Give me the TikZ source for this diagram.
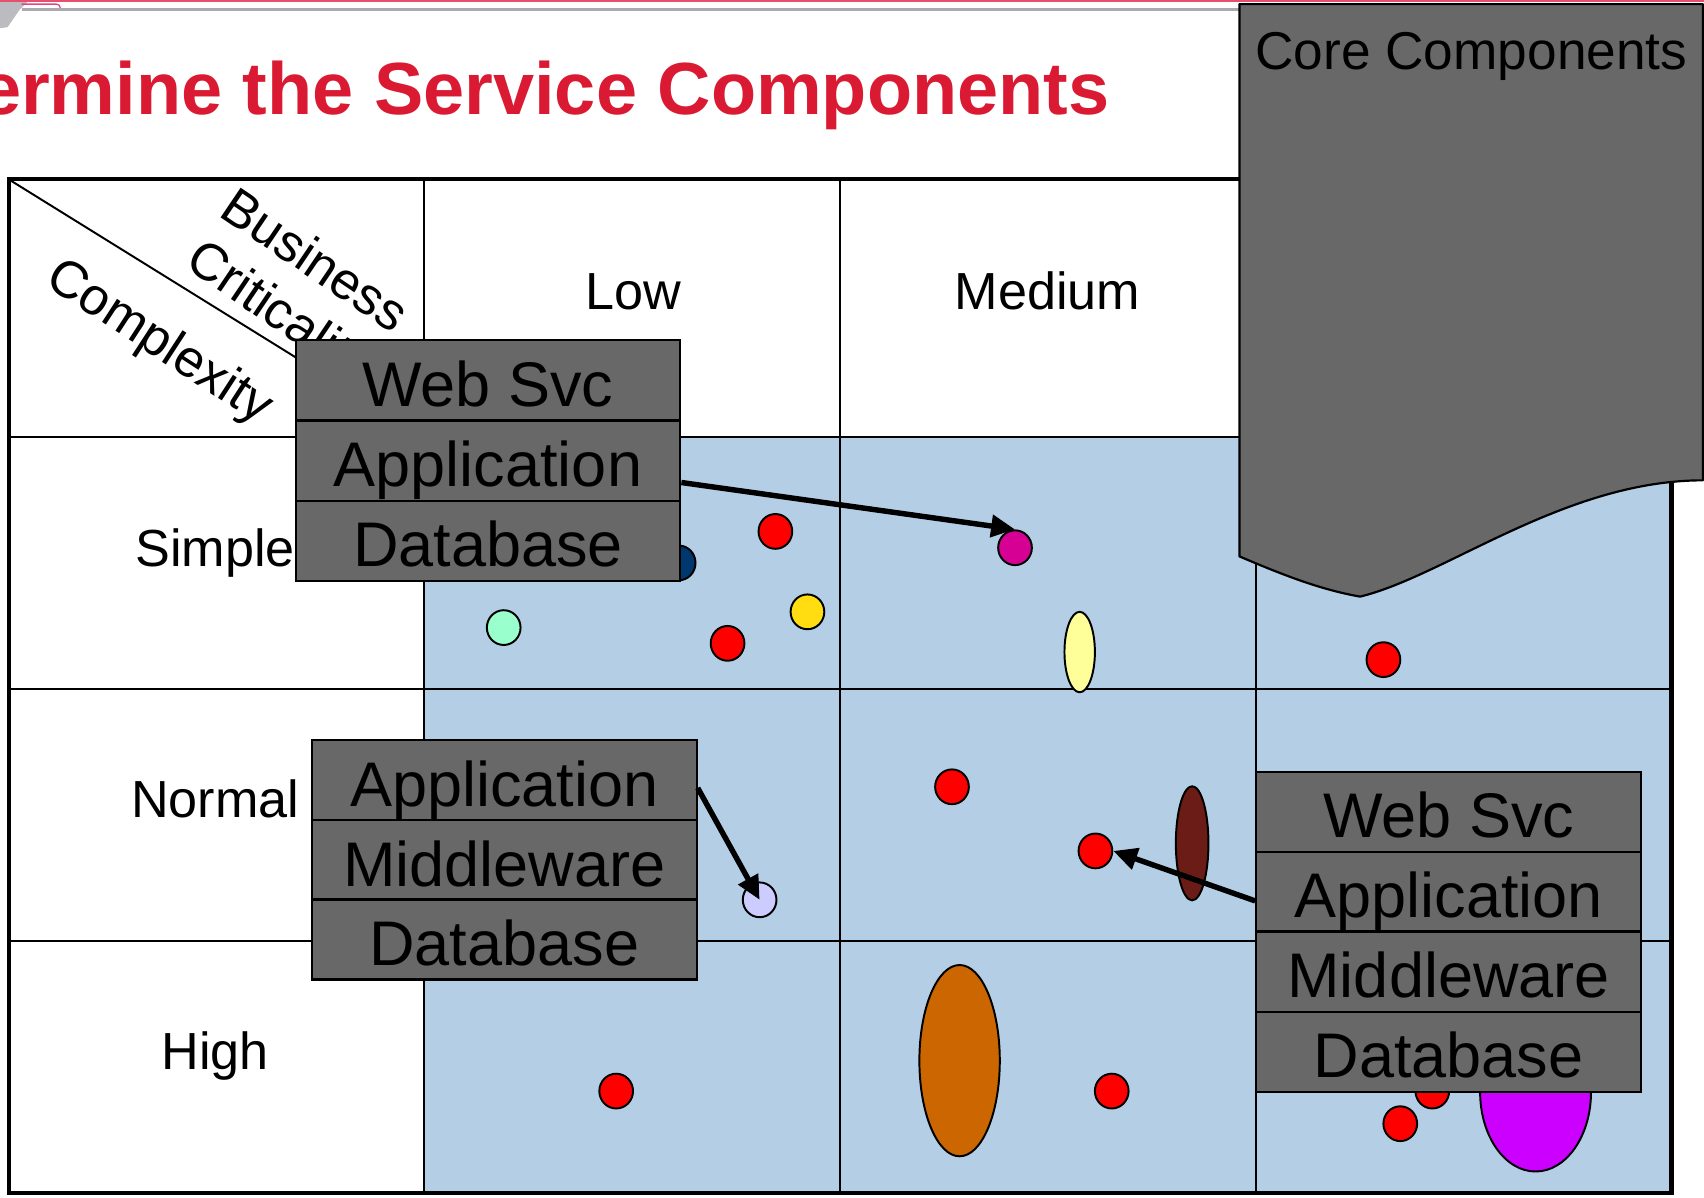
\documentclass[tikz,border=0pt]{standalone}
\usepackage{fontspec}
\setmainfont{Liberation Sans}
\usetikzlibrary{arrows.meta,shapes.geometric}
\definecolor{cellblue}{RGB}{180,206,230}
\definecolor{boxgray}{RGB}{104,104,104}
\definecolor{titlered}{RGB}{218,26,50}
\definecolor{topred}{RGB}{228,80,110}
\definecolor{topgray}{RGB}{170,170,176}
\definecolor{dotred}{RGB}{255,0,0}
\definecolor{dotnavy}{RGB}{0,56,110}
\definecolor{dotgreen}{RGB}{153,255,204}
\definecolor{dotyellow}{RGB}{255,221,17}
\definecolor{dotmagenta}{RGB}{214,0,148}
\definecolor{dotlav}{RGB}{204,204,255}
\definecolor{dotpale}{RGB}{255,255,153}
\definecolor{dotbrown}{RGB}{108,28,22}
\definecolor{dotorange}{RGB}{204,102,0}
\definecolor{dotpurple}{RGB}{204,0,255}
\begin{document}
\begin{tikzpicture}[x=1pt,y=-1pt,
  lbl/.style={font=\fontsize{48}{57}\selectfont, inner sep=0pt, anchor=base},
  boxrow/.style={draw=black, line width=2pt, fill=boxgray, minimum width=354pt,
     minimum height=73.7pt, inner sep=0pt, text height=48pt, text depth=0pt,
     font=\fontsize{58}{60}\selectfont},
  dot/.style={ellipse, draw=black, line width=1.8pt, inner sep=0pt,
     minimum width=31pt, minimum height=32pt},
  arr/.style={line width=5pt, -{Triangle[length=22pt,width=20pt]}},
  grid/.style={line width=2pt}
]
\useasboundingbox (0,0) rectangle (1568,1101.5);

% top decorations
\fill[topgray!80] (0,0) -- (27,0) -- (18,9) -- (7,25) -- (0,26) -- cycle;
\draw[topred, line width=1.6pt] (0,0.8) -- (1568,0.8);
\draw[topgray, line width=3pt] (20,9) -- (1568,9);
\draw[topred!80!magenta, line width=1.2pt] (20,3.8) -- (52,3.8) arc[start angle=90, end angle=0, radius=3.5pt];

% title
\node[font=\fontsize{68}{72}\selectfont\bfseries, text=titlered, inner sep=0pt,
      anchor=base east] (title) at (1021,105) {ermine the Service Components};

% table
\fill[cellblue] (390,402) rectangle (1538,1098);
\draw[grid] (390,165) -- (390,1098);
\draw[grid] (773,165) -- (773,1098);
\draw[grid] (1156,165) -- (1156,1098);
\draw[grid] (8,402) -- (1538,402);
\draw[grid] (8,634) -- (1538,634);
\draw[grid] (8,866) -- (1538,866);
\draw[line width=1.8pt] (8,165) -- (390,402);
\draw[line width=4pt] (8,165) rectangle (1538,1098);

% headers
\node[lbl] (low) at (582.5,285) {Low};
\node[lbl] (med) at (964,285) {Medium};
\node[lbl] (simple) at (198,521) {Simple};
\node[lbl] (normal) at (198,752) {Normal};
\node[lbl] (high) at (198,984) {High};
\node[font=\fontsize{48}{57}\selectfont, inner sep=0pt, align=center, rotate=-34]
   (bc) at (272,266) {Business\\Criticality};
\node[font=\fontsize{48}{57}\selectfont, inner sep=0pt, rotate=-33]
   (cx) at (146,316) {Complexity};

% dots
\node[dot, fill=dotred] (r1) at (713.5,489) {};
\node[dot, fill=dotred] (r2) at (669.5,592) {};
\node[dot, fill=dotred] (r3) at (1273,607) {};
\node[dot, fill=dotred] (r4) at (876,724) {};
\node[dot, fill=dotred] (r5) at (1008,783) {};
\node[dot, fill=dotred] (r6) at (567,1004) {};
\node[dot, fill=dotred] (r7) at (1023,1004) {};
\node[dot, fill=dotred] (r9) at (1318,1004) {};
\node[dot, fill=dotred] (r8) at (1288.5,1034) {};
\node[dot, fill=dotnavy] (navy) at (624.5,518) {};
\node[dot, fill=dotgreen] (green) at (463.5,577.5) {};
\node[dot, fill=dotyellow] (yellow) at (743,563) {};
\node[dot, fill=dotmagenta] (mag) at (934,504) {};
\node[dot, fill=dotlav] (lav) at (699,828) {};
\node[dot, fill=dotpale, minimum width=28pt, minimum height=74pt] (pale) at (993.5,600) {};
\node[dot, fill=dotbrown, minimum width=30pt, minimum height=105pt] (brown) at (1097,776) {};
\node[dot, fill=dotorange, minimum width=74pt, minimum height=176pt] (orange) at (883,976) {};
\node[dot, fill=dotpurple, minimum width=102pt, minimum height=146pt] (purple) at (1413,1005) {};

% stacks
\node[boxrow] (b1web) at (449,350) {Web Svc};
\node[boxrow] (b1app) at (449,424) {Application};
\node[boxrow] (b1db)  at (449,497.5) {Database};

\node[boxrow] (b2app) at (464,718) {Application};
\node[boxrow] (b2mid) at (464,791.5) {Middleware};
\node[boxrow] (b2db)  at (464,864.5) {Database};

\node[boxrow] (b3web) at (1333,747) {Web Svc};
\node[boxrow] (b3app) at (1333,820.5) {Application};
\node[boxrow] (b3mid) at (1333,894) {Middleware};
\node[boxrow] (b3db)  at (1333,967.8) {Database};

% arrows
\draw[arr] ([yshift=-20pt]b1app.east) -- (mag.north);
\draw[arr] ([yshift=-7pt]b2app.east) -- (lav.center);
\draw[arr] ([yshift=-8.5pt]b3app.west) -- (r5.east);

% core components document shape
\draw[fill=boxgray, line width=2pt, line join=round] (1140.5,3.8) -- (1567,3.8) -- (1567,442)
   .. controls (1440,442) and (1330,530) .. (1251.5,549)
   .. controls (1212,542) and (1176,527) .. (1140.5,512) -- cycle;
\node[font=\fontsize{49}{55}\selectfont, inner sep=0pt, anchor=base] (core) at (1354,64) {Core Components};
\end{tikzpicture}
\end{document}
